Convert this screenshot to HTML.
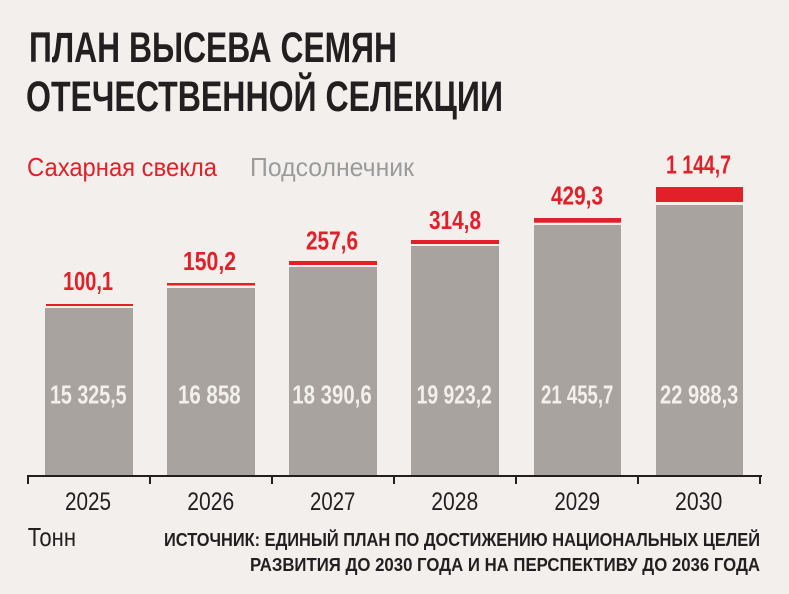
<!DOCTYPE html>
<html><head><meta charset="utf-8"><style>
html,body{margin:0;padding:0;background:#f3efec;}
svg{display:block;}
text{font-family:"Liberation Sans Narrow","Liberation Sans","DejaVu Sans Condensed",sans-serif;}
</style></head><body>
<svg width="789" height="594" viewBox="0 0 789 594" xmlns="http://www.w3.org/2000/svg">
<rect x="0" y="0" width="789" height="594" fill="#f3efec"/>
<!-- Title -->
<text x="29" y="62" font-size="43" font-weight="bold" fill="#231f20" textLength="368" lengthAdjust="spacingAndGlyphs">ПЛАН ВЫСЕВА СЕМЯН</text>
<text x="26" y="111" font-size="43" font-weight="bold" fill="#231f20" textLength="477" lengthAdjust="spacingAndGlyphs">ОТЕЧЕСТВЕННОЙ СЕЛЕКЦИИ</text>
<!-- Legend -->
<text x="27" y="176" font-size="26" fill="#e1202a" textLength="190" lengthAdjust="spacingAndGlyphs">Сахарная свекла</text>
<text x="250" y="176" font-size="26" fill="#9b9b9b" textLength="164" lengthAdjust="spacingAndGlyphs">Подсолнечник</text>

<!-- Bars -->
<g fill="#a8a39f">
<rect x="45" y="308" width="88" height="167"/>
<rect x="167" y="288" width="88" height="187"/>
<rect x="289" y="267" width="88" height="208"/>
<rect x="411" y="246" width="88" height="229"/>
<rect x="534" y="225" width="87" height="250"/>
<rect x="656" y="205" width="87" height="270"/>
</g>
<g fill="#e1202a">
<rect x="46" y="304" width="87" height="2"/>
<rect x="167" y="283" width="88" height="2.5"/>
<rect x="289" y="261" width="88" height="4"/>
<rect x="411" y="240" width="88" height="4"/>
<rect x="534" y="218" width="87" height="4.7"/>
<rect x="656" y="187" width="87" height="15"/>
</g>
<!-- Red labels -->
<g font-size="25.5" font-weight="bold" fill="#e1202a" text-anchor="middle">
<text x="88" y="290" textLength="50" lengthAdjust="spacingAndGlyphs">100,1</text>
<text x="209.5" y="270" textLength="53" lengthAdjust="spacingAndGlyphs">150,2</text>
<text x="332" y="249.3" textLength="52" lengthAdjust="spacingAndGlyphs">257,6</text>
<text x="455" y="229" textLength="52" lengthAdjust="spacingAndGlyphs">314,8</text>
<text x="577" y="204.3" textLength="52" lengthAdjust="spacingAndGlyphs">429,3</text>
<text x="698.5" y="173.3" textLength="65" lengthAdjust="spacingAndGlyphs">1 144,7</text>
</g>
<!-- Inner values -->
<g font-size="26" font-weight="bold" fill="#f3efea" text-anchor="middle">
<text x="88.3" y="403.3" textLength="76.7" lengthAdjust="spacingAndGlyphs">15 325,5</text>
<text x="209.3" y="403.3" textLength="62.7" lengthAdjust="spacingAndGlyphs">16 858</text>
<text x="332" y="403.3" textLength="79.4" lengthAdjust="spacingAndGlyphs">18 390,6</text>
<text x="454.3" y="403.3" textLength="75.3" lengthAdjust="spacingAndGlyphs">19 923,2</text>
<text x="577.2" y="403.3" textLength="72.3" lengthAdjust="spacingAndGlyphs">21 455,7</text>
<text x="699.2" y="403.3" textLength="78.3" lengthAdjust="spacingAndGlyphs">22 988,3</text>
</g>
<!-- Axis -->
<rect x="27" y="475" width="735" height="2" fill="#231f20"/>
<g fill="#231f20">
<rect x="27" y="475" width="2" height="9"/>
<rect x="149" y="475" width="2" height="9"/>
<rect x="271" y="475" width="2" height="9"/>
<rect x="393" y="475" width="2" height="9"/>
<rect x="515" y="475" width="2" height="9"/>
<rect x="637" y="475" width="2" height="9"/>
<rect x="759" y="475" width="2" height="9"/>
</g>
<!-- Years -->
<g font-size="25" fill="#231f20" text-anchor="middle">
<text x="88" y="510" textLength="46" lengthAdjust="spacingAndGlyphs">2025</text>
<text x="210.8" y="510" textLength="47" lengthAdjust="spacingAndGlyphs">2026</text>
<text x="332.7" y="510" textLength="45.3" lengthAdjust="spacingAndGlyphs">2027</text>
<text x="454.8" y="510" textLength="47" lengthAdjust="spacingAndGlyphs">2028</text>
<text x="577.2" y="510" textLength="45.7" lengthAdjust="spacingAndGlyphs">2029</text>
<text x="698.7" y="510" textLength="47.3" lengthAdjust="spacingAndGlyphs">2030</text>
</g>
<!-- Footer -->
<text x="27.7" y="546" font-size="26" fill="#231f20" textLength="48.3" lengthAdjust="spacingAndGlyphs">Тонн</text>
<text x="164" y="546" font-size="18.5" font-weight="bold" fill="#231f20" textLength="596" lengthAdjust="spacingAndGlyphs">ИСТОЧНИК: ЕДИНЫЙ ПЛАН ПО ДОСТИЖЕНИЮ НАЦИОНАЛЬНЫХ ЦЕЛЕЙ</text>
<text x="250" y="571" font-size="18.5" font-weight="bold" fill="#231f20" textLength="510" lengthAdjust="spacingAndGlyphs">РАЗВИТИЯ ДО 2030 ГОДА И НА ПЕРСПЕКТИВУ ДО 2036 ГОДА</text>
</svg>
</body></html>
